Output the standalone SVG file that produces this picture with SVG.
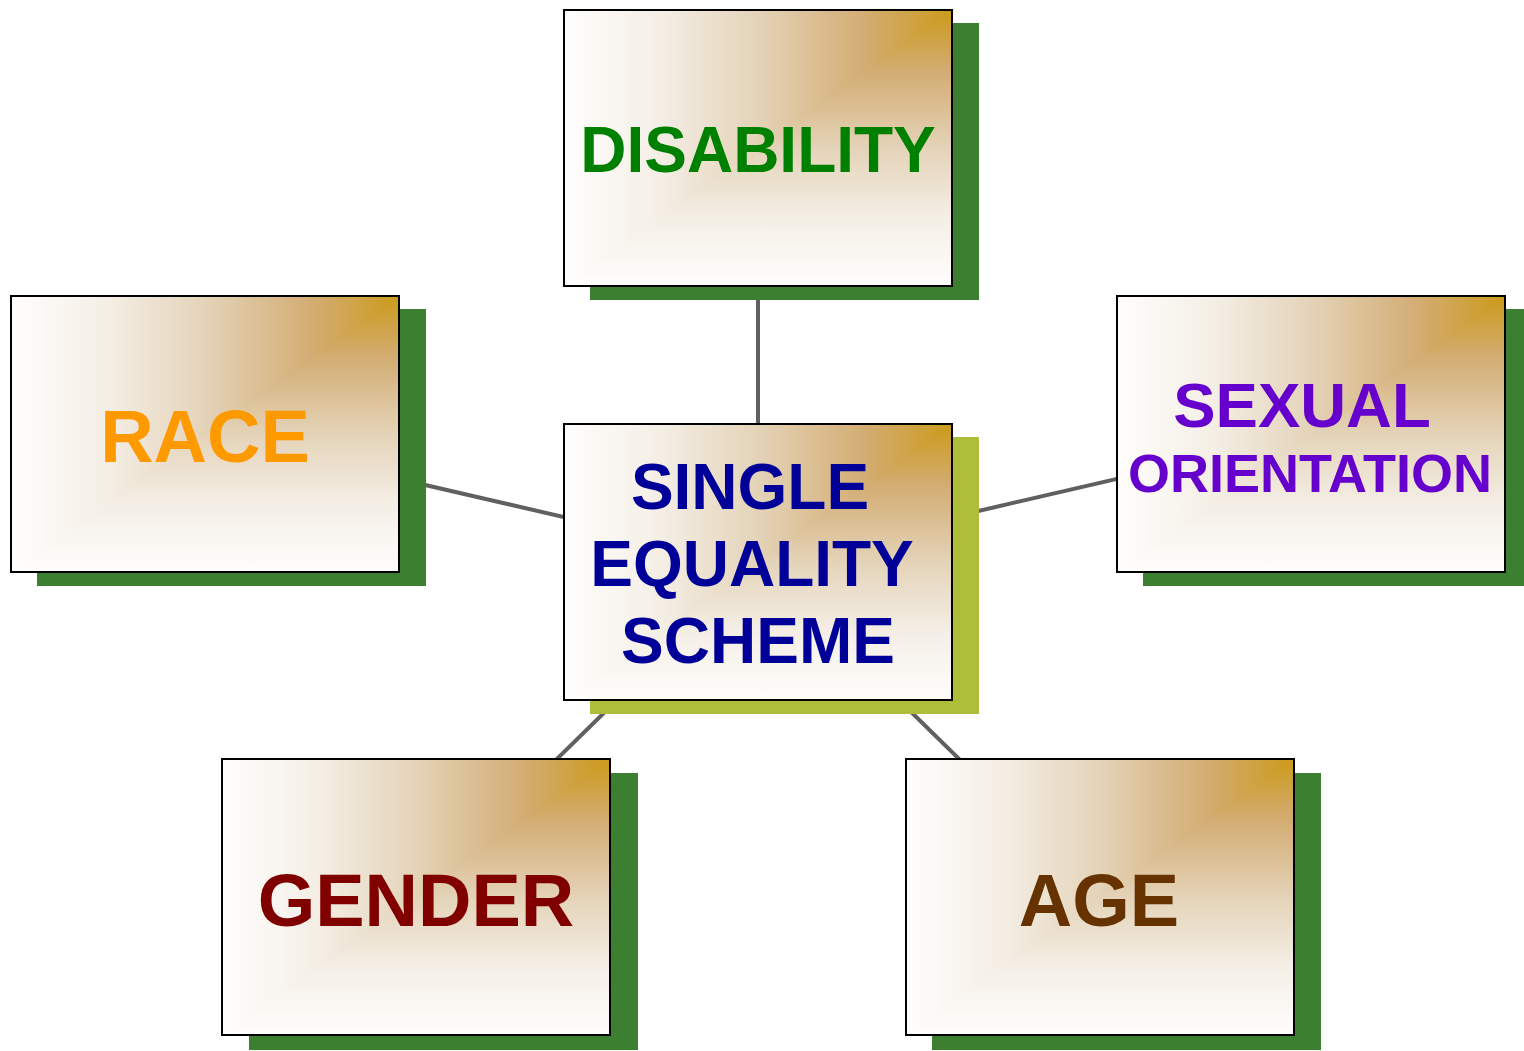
<svg xmlns="http://www.w3.org/2000/svg" width="1524" height="1051" viewBox="0 0 1524 1051">
  <defs>
    <!-- corner-style fill: horizontal ramp in the upper-left triangle, vertical ramp in the lower-right -->
    <linearGradient id="rampH" x1="1" y1="0" x2="0" y2="0">
      <stop offset="0" stop-color="#CC9A1A"/>
      <stop offset="0.22" stop-color="#D3AC72"/>
      <stop offset="0.5" stop-color="#E4D3B8"/>
      <stop offset="0.75" stop-color="#F4EEE5"/>
      <stop offset="1" stop-color="#FFFEFD"/>
    </linearGradient>
    <linearGradient id="rampV" x1="0" y1="0" x2="0" y2="1">
      <stop offset="0" stop-color="#CC9A1A"/>
      <stop offset="0.22" stop-color="#D3AC72"/>
      <stop offset="0.5" stop-color="#E4D3B8"/>
      <stop offset="0.75" stop-color="#F4EEE5"/>
      <stop offset="1" stop-color="#FFFEFD"/>
    </linearGradient>
    <style>
      .shadow { fill: #3D7F31; }
      .shadow-hub { fill: #AEBE3A; }
      .fillH { fill: url(#rampH); }
      .fillV { fill: url(#rampV); }
      .frame { fill: none; stroke: #000; stroke-width: 2; }
      .label { font-family: "Liberation Sans", Arial, sans-serif; font-weight: bold; text-anchor: middle; }
      .link { stroke: #606060; stroke-width: 4; fill: none; }
    </style>
  </defs>

  <rect width="1524" height="1051" fill="#FFFFFF"/>

  <!-- spokes from the hub to each surrounding box -->
  <g id="connectors">
    <line class="link" x1="758" y1="562" x2="758" y2="148"/>
    <line class="link" x1="758" y1="562" x2="205" y2="434"/>
    <line class="link" x1="758" y1="562" x2="1311" y2="434"/>
    <line class="link" x1="758" y1="562" x2="416" y2="897"/>
    <line class="link" x1="758" y1="562" x2="1100" y2="897"/>
  </g>

  <g id="disability">
    <rect class="shadow" x="590" y="23" width="389" height="277"/>
    <rect class="fillH" x="564" y="10" width="388" height="276"/>
    <polygon class="fillV" points="952,10 952,286 564,286"/>
    <rect class="frame" x="564" y="10" width="388" height="276"/>
    <text class="label" x="758" y="172" font-size="64" fill="#008000">DISABILITY</text>
  </g>

  <g id="race">
    <rect class="shadow" x="37" y="309" width="389" height="277"/>
    <rect class="fillH" x="11" y="296" width="388" height="276"/>
    <polygon class="fillV" points="399,296 399,572 11,572"/>
    <rect class="frame" x="11" y="296" width="388" height="276"/>
    <text class="label" x="205" y="462" font-size="74" fill="#FF9900">RACE</text>
  </g>

  <g id="sexual-orientation">
    <rect class="shadow" x="1143" y="309" width="381" height="277"/>
    <rect class="fillH" x="1117" y="296" width="388" height="276"/>
    <polygon class="fillV" points="1505,296 1505,572 1117,572"/>
    <rect class="frame" x="1117" y="296" width="388" height="276"/>
    <text class="label" x="1302" y="427" font-size="63.5" fill="#6600CC">SEXUAL</text>
    <text class="label" x="1310" y="492" font-size="54" fill="#6600CC">ORIENTATION</text>
  </g>

  <g id="single-equality-scheme">
    <rect class="shadow-hub" x="590" y="437" width="389" height="277"/>
    <rect class="fillH" x="564" y="424" width="388" height="276"/>
    <polygon class="fillV" points="952,424 952,700 564,700"/>
    <rect class="frame" x="564" y="424" width="388" height="276"/>
    <text class="label" x="750" y="509" font-size="64" fill="#000099">SINGLE</text>
    <text class="label" x="752" y="586" font-size="64" fill="#000099">EQUALITY</text>
    <text class="label" x="758" y="663" font-size="64" fill="#000099">SCHEME</text>
  </g>

  <g id="gender">
    <rect class="shadow" x="249" y="773" width="389" height="277"/>
    <rect class="fillH" x="222" y="759" width="388" height="276"/>
    <polygon class="fillV" points="610,759 610,1035 222,1035"/>
    <rect class="frame" x="222" y="759" width="388" height="276"/>
    <text class="label" x="416" y="926" font-size="74" fill="#800000">GENDER</text>
  </g>

  <g id="age">
    <rect class="shadow" x="932" y="773" width="389" height="277"/>
    <rect class="fillH" x="906" y="759" width="388" height="276"/>
    <polygon class="fillV" points="1294,759 1294,1035 906,1035"/>
    <rect class="frame" x="906" y="759" width="388" height="276"/>
    <text class="label" x="1099" y="926" font-size="74" fill="#663300">AGE</text>
  </g>
</svg>
